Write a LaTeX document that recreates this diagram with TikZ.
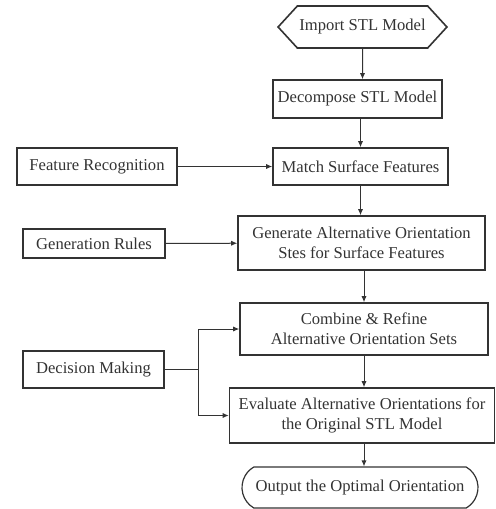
\documentclass[tikz,border=0pt]{standalone}
\usepackage{fontspec}
\setmainfont{Liberation Serif}
\usetikzlibrary{shapes.symbols, shapes.misc, arrows.meta, positioning}
\tikzset{
    block/.style={rectangle, draw=black!80, line width=0.8pt, align=center, text=black!80, font=\fontsize{8.3}{10}\selectfont, inner sep=1pt},
    arrow/.style={draw=black!80, line width=0.5pt, -{Latex[length=3pt, width=2.6pt]}},
    line/.style={draw=black!80, line width=0.5pt},
    startbox/.style={block, signal, signal to=west and east, signal pointer angle=95},
    endbox/.style={block, rounded rectangle, rounded rectangle arc length=120, line width=0.6pt}
}
\begin{document}
\begin{tikzpicture}[x=0.5pt, y=-0.5pt]
            \useasboundingbox (0,0) rectangle (496,509);
            % main column
            \node[startbox, minimum width=80.5pt, minimum height=21pt] (import) at (362.5,27) {Import STL Model};
            \node[block, minimum width=84.5pt, minimum height=19pt] (decompose) at (357.5,99) {Decompose STL Model};
            \node[block, minimum width=87.5pt, minimum height=18.5pt] (match) at (360.5,166.5) {Match Surface Features};
            \node[block, minimum width=123.5pt, minimum height=27pt] (generate) at (361.5,243) {Generate Alternative Orientation\\Stes for Surface Features};
            \node[block, minimum width=124pt, minimum height=26pt] (combine) at (364,329) {Combine \& Refine\\Alternative Orientation Sets};
            \node[block, minimum width=132.5pt, minimum height=27.5pt] (evaluate) at (362,415.5) {Evaluate Alternative Orientations for\\the Original STL Model};
            \node[endbox, minimum width=120pt, minimum height=20.5pt] (output) at (360,487.5) {Output the Optimal Orientation};
            % side inputs
            \node[block, minimum width=80pt, minimum height=18.5pt] (featrec) at (97,166.5) {Feature Recognition};
            \node[block, minimum width=71pt, minimum height=14.5pt] (genrules) at (94,243.5) {Generation Rules};
            \node[block, minimum width=70.5pt, minimum height=18.5pt] (decision) at (93.5,369.5) {Decision Making};
            \coordinate (split) at (198,369.5);

            \draw[arrow] (import) -- (import |- decompose.north);
            \draw[arrow] (match |- decompose.south) -- (match);
            \draw[arrow] (match) -- (match |- generate.north);
            \draw[arrow] (combine |- generate.south) -- (combine);
            \draw[arrow] (combine) -- (combine |- evaluate.north);
            \draw[arrow] (combine |- evaluate.south) -- (combine |- output.north);
            \draw[arrow] (featrec) -- (match);
            \draw[arrow] (genrules) -- (generate);
            \draw[line] (decision) -- (split);
            \draw[arrow] (split) |- (combine);
            \draw[arrow] (split) |- (evaluate);
        \end{tikzpicture}
\end{document}
